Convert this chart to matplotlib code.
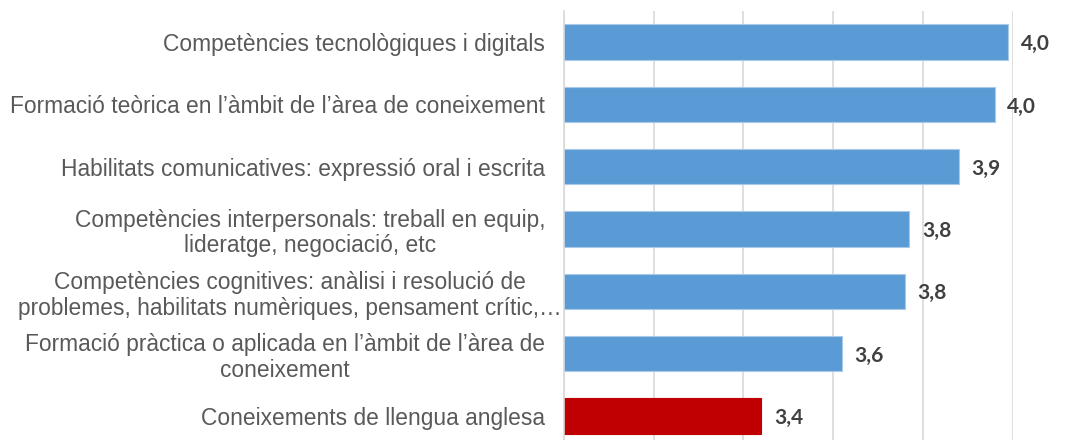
import matplotlib
matplotlib.use("Agg")
import matplotlib.pyplot as plt
import matplotlib.transforms as mtransforms

categories = [
    "Competències tecnològiques i digitals",
    "Formació teòrica en l’àmbit de l’àrea de coneixement",
    "Habilitats comunicatives: expressió oral i escrita",
    "Competències interpersonals: treball en equip,\nlideratge, negociació, etc",
    "Competències cognitives: anàlisi i resolució de\nproblemes, habilitats numèriques, pensament crític,…",
    "Formació pràctica o aplicada en l’àmbit de l’àrea de\nconeixement",
    "Coneixements de llengua anglesa",
]
values = [3.99, 3.96, 3.88, 3.77, 3.76, 3.62, 3.44]
grid_ticks = [3.0, 3.2, 3.4, 3.6, 3.8, 4.0]

BLUE = "#5B9BD5"
RED = "#C00000"
colors = [BLUE] * 6 + [RED]
edges = ["#A9C9EA"] * 6 + [RED]

fig = plt.figure(figsize=(10.89, 4.40), dpi=100)
ax = fig.add_axes([564 / 1089, 0.0, (1012.7 - 564) / 1089, (440 - 11) / 440])

ypos = list(range(len(categories)))
ax.barh(ypos, values, left=0, height=0.57, color=colors, edgecolor=edges,
        linewidth=0.8, zorder=2)

ax.set_xlim(3.0, 4.0)
ax.set_ylim(6.387, -0.5)
ax.set_xticks(grid_ticks)
ax.xaxis.grid(True, color="#D9D9D9", linewidth=1.2, zorder=0)
ax.tick_params(axis="x", length=0, labelbottom=False)
ax.set_yticks(ypos)
ax.set_yticklabels(categories, fontsize=16.4, color="#595959",
                   family=["Liberation Sans", "DejaVu Sans"])
ax.tick_params(axis="y", length=0, pad=13.5)
for lab in ax.get_yticklabels():
    lab.set_multialignment("center")
    lab.set_linespacing(1.15)
# the long truncated label runs closer to the axis, as in the original
long_lab = ax.get_yticklabels()[4]
long_lab.set_transform(long_lab.get_transform() +
                       mtransforms.ScaledTranslation(17 / 100, 0, fig.dpi_scale_trans))

for s in ["top", "right", "bottom"]:
    ax.spines[s].set_visible(False)
ax.spines["left"].set_color("#D9D9D9")
ax.spines["left"].set_linewidth(1.2)
ax.set_axisbelow(True)

for y, v in zip(ypos, values):
    ax.annotate(f"{v:.1f}".replace(".", ","), xy=(v, y), xytext=(9, -1.5),
                textcoords="offset points", va="center", ha="left",
                fontsize=15, fontweight="bold", color="#404040",
                family=["Lato", "DejaVu Sans"], annotation_clip=False)

fig.savefig("out.png", dpi=100)
